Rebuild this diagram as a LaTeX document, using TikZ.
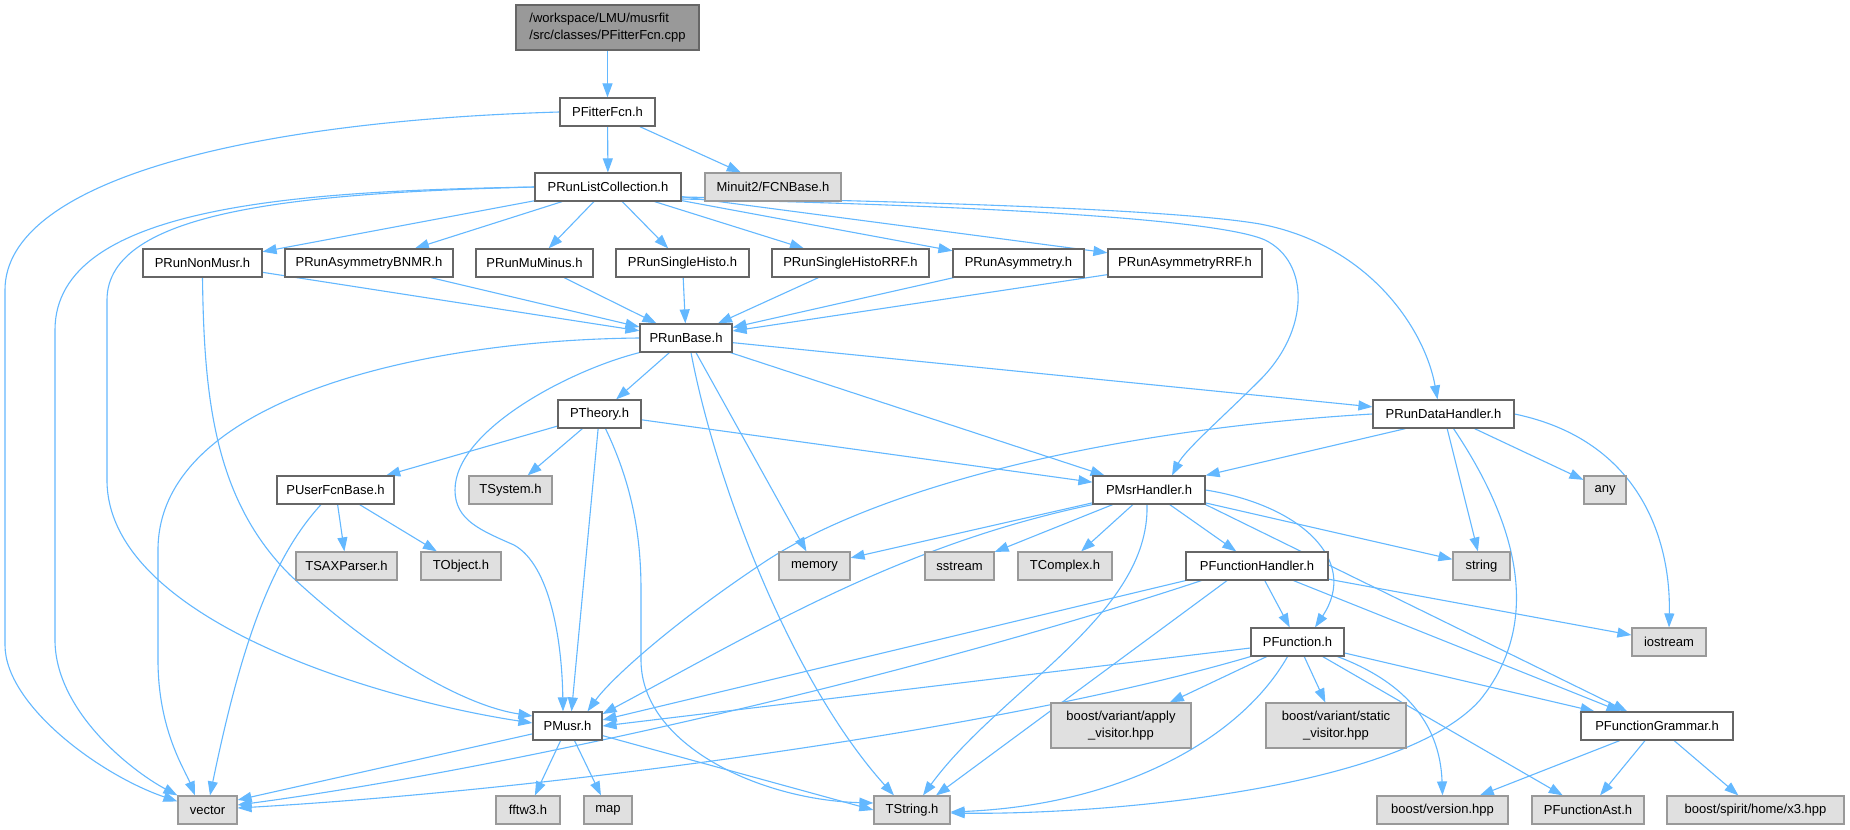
\documentclass[tikz,border=0pt]{standalone}
\usepackage{fontspec}
\setmainfont{Liberation Sans}
\usetikzlibrary{arrows.meta,backgrounds}
\definecolor{edgec}{HTML}{63B8FF}
\definecolor{bord}{HTML}{666666}
\definecolor{gbord}{HTML}{999999}
\definecolor{gfill}{HTML}{E0E0E0}
\definecolor{topfill}{HTML}{999999}
\newcommand\bx[7]{\node[#2, minimum width={(#5-#3)*0.5pt}, minimum height={(#6-#4)*0.5pt}] (#1) at ({(#3+#5)/2},{(#4+#6)/2}) {#7};}
\begin{document}
\begin{tikzpicture}[x=0.5pt,y=-0.5pt,
 box/.style={rectangle, inner sep=0pt, line width=0.6pt, font=\fontsize{6.5}{8.5}\selectfont, text=black},
 wn/.style={box, draw=bord, fill=white},
 gn/.style={box, draw=gbord, fill=gfill},
 tn/.style={box, draw=bord, fill=topfill},
 e/.style={draw=edgec, line width=0.55pt, -{Triangle[length=7pt,width=5pt]}}]
\useasboundingbox (0,0) rectangle (1850,829);
\bx{top}{tn,align=left}{516}{5}{699}{50}{/workspace/LMU/musrfit\\/src/classes/PFitterFcn.cpp}
\bx{pfit}{wn}{560}{98}{655}{126}{PFitterFcn.h}
\bx{prlc}{wn}{535}{173}{681}{201}{PRunListCollection.h}
\bx{minuit}{gn}{705}{173}{841}{201}{Minuit2/FCNBase.h}
\bx{nonmusr}{wn}{143}{249}{262}{277}{PRunNonMusr.h}
\bx{bnmr}{wn}{285}{249}{453}{277}{PRunAsymmetryBNMR.h}
\bx{mumin}{wn}{476}{249}{593}{277}{PRunMuMinus.h}
\bx{shisto}{wn}{616}{249}{749}{277}{PRunSingleHisto.h}
\bx{shrrf}{wn}{772}{249}{929}{277}{PRunSingleHistoRRF.h}
\bx{asym}{wn}{953}{249}{1084}{277}{PRunAsymmetry.h}
\bx{asrrf}{wn}{1108}{249}{1262}{277}{PRunAsymmetryRRF.h}
\bx{prb}{wn}{640}{324}{732}{352}{PRunBase.h}
\bx{pth}{wn}{558}{400}{641}{428}{PTheory.h}
\bx{prdh}{wn}{1373}{400}{1514}{428}{PRunDataHandler.h}
\bx{pufb}{wn}{277}{476}{394}{504}{PUserFcnBase.h}
\bx{tsys}{gn}{469}{476}{552}{504}{TSystem.h}
\bx{pmsr}{wn}{1093}{476}{1205}{504}{PMsrHandler.h}
\bx{any}{gn}{1584}{476}{1626}{504}{any}
\bx{tsax}{gn}{296}{552}{397}{580}{TSAXParser.h}
\bx{tobj}{gn}{421}{552}{501}{580}{TObject.h}
\bx{memory}{gn}{779}{552}{850}{580}{memory}
\bx{sstream}{gn}{925}{552}{994}{580}{sstream}
\bx{tcomplex}{gn}{1018}{552}{1112}{580}{TComplex.h}
\bx{pfh}{wn}{1186}{552}{1328}{580}{PFunctionHandler.h}
\bx{string}{gn}{1453}{552}{1510}{580}{string}
\bx{pfn}{wn}{1251}{628}{1344}{656}{PFunction.h}
\bx{iostream}{gn}{1632}{628}{1706}{656}{iostream}
\bx{pmusr}{wn}{533}{712}{602}{740}{PMusr.h}
\bx{apply}{gn,align=center}{1051}{703}{1191}{748}{boost/variant/apply\\\_visitor.hpp}
\bx{static}{gn,align=center}{1266}{703}{1406}{748}{boost/variant/static\\\_visitor.hpp}
\bx{pfg}{wn}{1581}{712}{1733}{740}{PFunctionGrammar.h}
\bx{vector}{gn}{178}{796}{237}{824}{vector}
\bx{fftw}{gn}{496}{796}{560}{824}{fftw3.h}
\bx{map}{gn}{584}{796}{632}{824}{map}
\bx{tstring}{gn}{874}{796}{950}{824}{TString.h}
\bx{bver}{gn}{1377}{796}{1508}{824}{boost/version.hpp}
\bx{pfast}{gn}{1532}{796}{1644}{824}{PFunctionAst.h}
\bx{spirit}{gn}{1667}{796}{1844}{824}{boost/spirit/home/x3.hpp}
\begin{pgfonlayer}{background}
\fill[white] (0,0) rectangle (1850,829);
\draw[e] (top) -- (pfit);
\draw[e] (pfit) -- (prlc);
\draw[e] (pfit) -- (minuit);
\draw[e] (pfit.west) .. controls (250,121) and (5,180) .. (5,290) -- (5,645) .. controls (5,705) and (100,775) .. ([yshift=-3pt]vector.north west);
\foreach \t in {nonmusr,bnmr,mumin,shisto,shrrf,asym,asrrf} {\draw[e] (prlc) -- (\t); \draw[e] (\t) -- (prb);}
\draw[e] (prlc.west) .. controls (300,191) and (55,205) .. (55,330) -- (55,640) .. controls (55,710) and (130,770) .. (vector.north west);
\draw[e] (prlc.west) .. controls (300,193) and (107,210) .. (107,300) -- (107,480) .. controls (107,620) and (380,700) .. ([yshift=1.5pt]pmusr.west);
\draw[e] ([yshift=-5pt]prlc.east) .. controls (1000,203) and (1190,212) .. (1260,224) .. controls (1370,245) and (1425,330) .. ([xshift=-3pt]prdh.north);
\draw[e] ([yshift=-6pt]prlc.east) .. controls (1000,206) and (1220,220) .. (1265,240) .. controls (1310,262) and (1310,330) .. (1260,380) .. controls (1225,415) and (1185,450) .. ([xshift=11.5pt]pmsr.north);
\draw[e] (nonmusr.south) .. controls (204,400) and (215,500) .. (290,575) .. controls (370,650) and (460,705) .. ([yshift=5pt]pmusr.west);
\draw[e] (prb) -- (pth);
\draw[e] (prb) -- (prdh);
\draw[e] (prb) -- (pmsr);
\draw[e] ([xshift=5pt]prb.south) -- (memory);
\draw[e] ([xshift=2.5pt]prb.south) .. controls (715,480) and (790,680) .. ([xshift=-9pt]tstring.north);
\draw[e] (prb.west) .. controls (420,340) and (158,400) .. (158,550) -- (158,660) .. controls (158,730) and (185,770) .. ([xshift=-6.25pt]vector.north);
\draw[e] (prb.south west) .. controls (570,370) and (455,430) .. (455,490) .. controls (455,520) and (480,530) .. (514,545) .. controls (550,565) and (562,640) .. ([xshift=-2.25pt]pmusr.north);
\draw[e] (pth) -- (pufb);
\draw[e] (pth) -- (tsys);
\draw[e] (pth) -- ([xshift=2pt]pmusr.north);
\draw[e] (pth) -- (pmsr);
\draw[e] ([xshift=3pt]pth.south) .. controls (630,480) and (641,530) .. (641,590) -- (641,660) .. controls (641,745) and (760,800) .. ([yshift=3.5pt]tstring.west);
\draw[e] (pufb) -- (tsax);
\draw[e] (pufb) -- (tobj);
\draw[e] ([xshift=-7.25pt]pufb.south) .. controls (270,560) and (240,650) .. ([xshift=1.25pt]vector.north);
\draw[e] ([xshift=-19pt]prdh.south) -- (pmsr.north east);
\draw[e] (prdh) -- (any);
\draw[e] (prdh) -- (string);
\draw[e] (prdh.east) .. controls (1640,440) and (1671,540) .. (iostream.north);
\draw[e] ([xshift=5pt]prdh.south) .. controls (1515,520) and (1545,620) .. (1480,700) .. controls (1400,790) and (1100,815) .. ([yshift=-1.5pt]tstring.east);
\draw[e] (prdh.west) .. controls (1100,430) and (870,490) .. (760,565) .. controls (670,625) and (610,680) .. ([xshift=10pt]pmusr.north);
\draw[e] (pmsr) -- (memory);
\draw[e] (pmsr) -- (sstream);
\draw[e] (pmsr) -- (tcomplex);
\draw[e] (pmsr) -- (pfh);
\draw[e] (pmsr) -- (string);
\draw[e] (pmsr.south east) -- (pfg);
\draw[e] (pmsr.east) .. controls (1300,505) and (1360,560) .. ([xshift=8.75pt]pfn.north);
\draw[e] ([xshift=-1pt]pmsr.south) .. controls (1150,615) and (1000,690) .. ([xshift=5.5pt]tstring.north);
\draw[e] (pmsr.south west) .. controls (900,545) and (760,630) .. ([yshift=6pt]pmusr.east);
\draw[e] (pfh) -- (pfn);
\draw[e] (pfh) -- (pfg);
\draw[e] (pfh) -- (iostream);
\draw[e] (pfh.south west) -- ([yshift=3pt]pmusr.east);
\draw[e] ([xshift=-15pt]pfh.south) -- ([xshift=12pt]tstring.north);
\draw[e] ([xshift=8pt]pfh.south west) .. controls (900,680) and (500,770) .. ([yshift=2.5pt]vector.east);
\draw[e] ([yshift=-3pt]pfn.west) -- (pmusr.east);
\draw[e] (pfn.south west) .. controls (1000,730) and (550,790) .. ([yshift=1pt]vector.east);
\draw[e] ([xshift=-5pt]pfn.south) .. controls (1240,740) and (1120,805) .. ([yshift=-1pt]tstring.east);
\draw[e] (pfn) -- (apply);
\draw[e] (pfn) -- (static);
\draw[e] (pfn) -- (pfg);
\draw[e] ([xshift=20pt]pfn.south) .. controls (1400,680) and (1440,720) .. (bver.north);
\draw[e] (pfn) -- (pfast);
\draw[e] (pfg) -- (bver);
\draw[e] (pfg) -- (pfast);
\draw[e] (pfg) -- (spirit);
\draw[e] (pmusr) -- ([yshift=5pt]vector.east);
\draw[e] (pmusr) -- (fftw);
\draw[e] (pmusr) -- (map);
\draw[e] (pmusr) -- (tstring.west);
\end{pgfonlayer}
\end{tikzpicture}
\end{document}
